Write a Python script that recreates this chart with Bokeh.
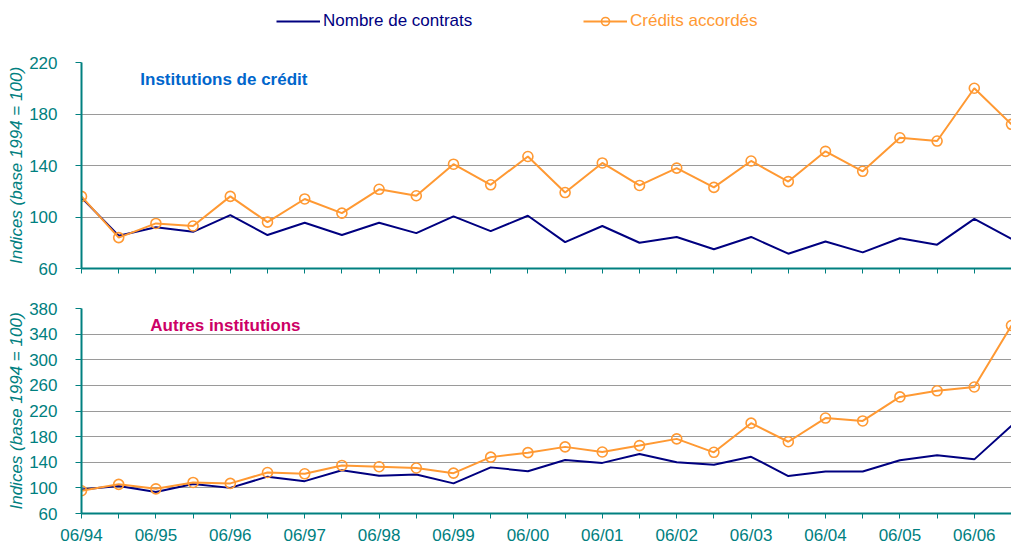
from bokeh.plotting import figure
from bokeh.models import (Range1d, FixedTicker, Legend, LegendItem, Label)
from bokeh.layouts import column
from bokeh.embed import file_html
from bokeh.resources import INLINE

periods = ["06/94", "12/94", "06/95", "12/95", "06/96", "12/96", "06/97", "12/97",
           "06/98", "12/98", "06/99", "12/99", "06/00", "12/00", "06/01", "12/01",
           "06/02", "12/02", "06/03", "12/03", "06/04", "12/04", "06/05", "12/05",
           "06/06", "12/06"]

top_contrats = [115, 85.5, 92, 88.5, 101.5, 86, 95.5, 86, 95.5, 87.5, 100.5, 89,
                101, 80.5, 93, 80, 84.5, 75, 84.5, 71.5, 81, 72.5, 83.5, 78.5, 98.5, 83]
top_credits = [116, 84, 95, 93, 116, 96, 114, 103, 121.5, 116.5, 141, 125,
               147, 119, 142, 124.5, 138, 123, 143.5, 127.5, 151, 135.5, 161.5, 159, 200, 172]
bot_contrats = [97.5, 103, 93.5, 106, 100, 117.5, 110.5, 127.5, 119, 121, 107, 132,
                126, 143.5, 139, 153, 140, 136, 148.5, 118.5, 125.5, 125.5, 143, 151, 144.5, 197]
bot_credits = [95.5, 105.5, 98.5, 108.5, 107, 124, 122, 135, 133, 131, 123, 148,
               155, 164, 156, 166, 176.5, 155.5, 201, 172, 209, 204.5, 242, 251.5, 257.5, 353.5]

series_names = ["Nombre de contrats", "Crédits accordés"]
panel_titles = ["Institutions de crédit", "Autres institutions"]
y_label = "Indices (base 1994 = 100)"
top_ticks = [60, 100, 140, 180, 220]
bot_ticks = [60, 100, 140, 180, 220, 260, 300, 340, 380]

NAVY = "#000080"
ORANGE = "#FF9933"
TEAL = "#008080"
FONT = "Liberation Sans"
FS = "17px"
W = 1011
LEFT = 81

xs = list(range(len(periods)))
even = [i for i in xs if i % 2 == 0]
odd = [i for i in xs if i % 2 == 1]
labels = {i: periods[i] for i in even}


def make_panel(height, top, bottom, yr, yticks, show_labels):
    p = figure(width=W, height=height, output_backend="svg", toolbar_location=None,
               x_range=Range1d(0, len(periods) - 1), y_range=Range1d(*yr),
               min_border_left=LEFT, min_border_right=0, min_border_top=top,
               min_border_bottom=bottom)
    p.outline_line_color = None
    p.xgrid.grid_line_color = None
    p.ygrid.grid_line_color = "#9A9A9A"
    p.ygrid.grid_line_width = 1
    p.yaxis.ticker = FixedTicker(ticks=yticks)
    if show_labels:
        p.xaxis.ticker = FixedTicker(ticks=even, minor_ticks=odd)
        p.xaxis.major_label_overrides = labels
        p.xaxis.major_label_standoff = 7
    else:
        p.xaxis.ticker = FixedTicker(ticks=[], minor_ticks=xs)
        p.xaxis.major_label_standoff = 0
    for ax in (p.xaxis[0], p.yaxis[0]):
        ax.axis_line_color = TEAL
        ax.axis_line_width = 2
        ax.major_tick_line_color = TEAL
        ax.major_tick_line_width = 1
        ax.major_label_text_color = TEAL
        ax.major_label_text_font = FONT
        ax.major_label_text_font_size = FS
    p.yaxis.minor_tick_line_color = None
    p.yaxis.major_tick_in = 0
    p.yaxis.major_tick_out = 6
    p.yaxis.major_label_standoff = 18
    p.yaxis.axis_label = y_label
    p.yaxis.axis_label_text_font = FONT
    p.yaxis.axis_label_text_font_size = FS
    p.yaxis.axis_label_text_font_style = "italic"
    p.yaxis.axis_label_text_color = TEAL
    p.yaxis.axis_label_standoff = 0
    p.xaxis.major_tick_in = 0
    p.xaxis.major_tick_out = 5
    p.xaxis.minor_tick_in = 0
    p.xaxis.minor_tick_out = 5
    p.xaxis.minor_tick_line_color = TEAL
    p.xaxis.minor_tick_line_width = 1
    return p


# legend strip
pl = figure(width=W, height=42, output_backend="svg", toolbar_location=None,
            x_axis_type=None, y_axis_type=None, x_range=Range1d(0, 1), y_range=Range1d(0, 1),
            min_border_left=LEFT, min_border_right=0, min_border_top=0, min_border_bottom=0)
pl.outline_line_color = None
pl.xgrid.grid_line_color = None
pl.ygrid.grid_line_color = None
dl1 = pl.line([-5, -4], [-5, -5], line_color=NAVY, line_width=2)
dl2 = pl.line([-5, -4], [-5, -5], line_color=ORANGE, line_width=2)
ds2 = pl.scatter([-5], [-5], marker="circle", size=10, line_color=ORANGE, line_width=1.6,
                 fill_color=None)
leg1 = Legend(items=[LegendItem(label=series_names[0], renderers=[dl1])],
              location=(276 - LEFT, 11), orientation="horizontal")
leg2 = Legend(items=[LegendItem(label=series_names[1], renderers=[dl2, ds2])],
              location=(583 - LEFT, 11), orientation="horizontal")
for lg, col in ((leg1, NAVY), (leg2, ORANGE)):
    lg.label_text_color = col
    lg.label_text_font = FONT
    lg.label_text_font_size = FS
    lg.glyph_width = 44
    lg.glyph_height = 20
    lg.label_standoff = 3
    lg.padding = 0
    lg.margin = 0
    lg.border_line_color = None
    lg.background_fill_alpha = 0
    pl.add_layout(lg, "center")

p1 = make_panel(246, 20, 20, (60, 220), top_ticks, False)
p2 = make_panel(259, 20, 34, (60, 380), bot_ticks, True)

for p, c, k in ((p1, top_contrats, top_credits), (p2, bot_contrats, bot_credits)):
    p.line(xs, c, line_color=NAVY, line_width=2)
    p.line(xs, k, line_color=ORANGE, line_width=2)
    p.scatter(xs, k, marker="circle", size=10, line_color=ORANGE, line_width=1.6,
              fill_color=None)

p1.add_layout(Label(x=1.58, y=207, text=panel_titles[0], text_color="#0066CC",
                    text_font=FONT, text_font_size=FS, text_font_style="bold",
                    text_baseline="alphabetic"))
p2.add_layout(Label(x=1.85, y=353.5, text=panel_titles[1], text_color="#CC0066",
                    text_font=FONT, text_font_size=FS, text_font_style="bold",
                    text_baseline="alphabetic"))

layout = column(pl, p1, p2, spacing=0)
open("out.html", "w").write(file_html(layout, INLINE))
